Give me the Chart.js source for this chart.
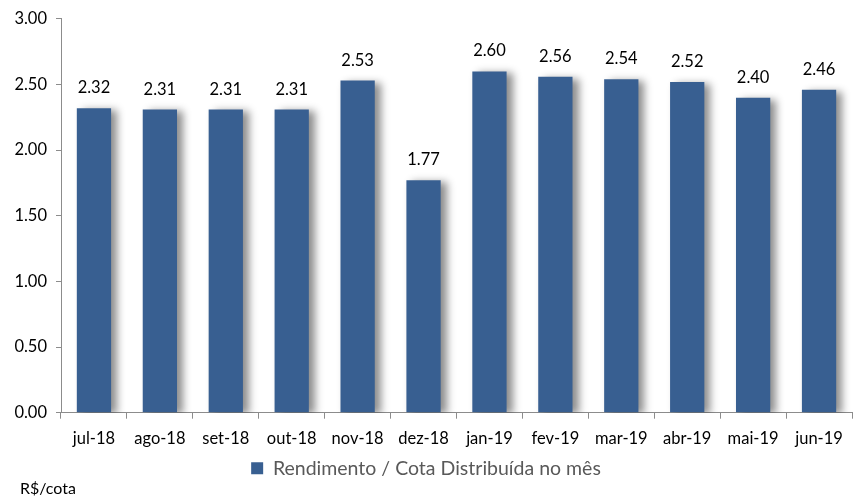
<!DOCTYPE html>
<html>
<head>
<meta charset="utf-8">
<script src="https://cdn.jsdelivr.net/npm/chart.js@4"></script>
<style>
  html, body { margin: 0; padding: 0; background: #fff; }
  #wrap { width: 859px; height: 498px; }
</style>
</head>
<body>
<div id="wrap"><canvas id="rendChart"></canvas></div>
<script>
const months = ["jul-18", "ago-18", "set-18", "out-18", "nov-18", "dez-18",
  "jan-19", "fev-19", "mar-19", "abr-19", "mai-19", "jun-19"];
const rendimento = [2.32, 2.31, 2.31, 2.31, 2.53, 1.77, 2.60, 2.56, 2.54, 2.52, 2.40, 2.46];
const seriesName = "Rendimento / Cota Distribuída no mês";
const unitLabel = "R$/cota";

const FONT = "Lato, 'Open Sans', sans-serif";

// shadow behind bars, like the spreadsheet original
const barShadow = {
  id: "barShadow",
  beforeDatasetDraw(chart) {
    const ctx = chart.ctx;
    ctx.save();
    ctx.shadowColor = "rgba(0,0,0,0.45)";
    ctx.shadowBlur = 8;
    ctx.shadowOffsetX = 6;
    ctx.shadowOffsetY = 2;
  },
  afterDatasetDraw(chart) {
    chart.ctx.restore();
  },
};

// value labels above each bar + unit caption
const valueLabels = {
  id: "valueLabels",
  afterDatasetsDraw(chart) {
    const ctx = chart.ctx;
    const meta = chart.getDatasetMeta(0);
    ctx.save();
    ctx.font = "16.5px " + FONT;
    ctx.fillStyle = "#000";
    ctx.textAlign = "center";
    ctx.textBaseline = "bottom";
    meta.data.forEach((bar, i) => {
      ctx.fillText(rendimento[i].toFixed(2), bar.x, bar.y - 12);
    });
    ctx.restore();
  },
  afterDraw(chart) {
    const ctx = chart.ctx;
    ctx.save();
    ctx.font = "16px " + FONT;
    ctx.fillStyle = "#000";
    ctx.textAlign = "left";
    ctx.textBaseline = "bottom";
    ctx.fillText(unitLabel, 20, chart.height - 1);
    ctx.restore();
  },
};

new Chart(document.getElementById("rendChart"), {
  type: "bar",
  data: {
    labels: months,
    datasets: [
      {
        label: seriesName,
        data: rendimento,
        backgroundColor: "#385F91",
        borderWidth: 0,
        categoryPercentage: 1,
        barPercentage: 0.52,
      },
    ],
  },
  options: {
    responsive: true,
    maintainAspectRatio: false,
    animation: false,
    layout: { padding: { left: 0, right: 7, top: 8, bottom: 10 } },
    plugins: {
      tooltip: { enabled: false },
      legend: {
        position: "bottom",
        labels: {
          boxWidth: 12,
          boxHeight: 12,
          color: "#595959",
          font: { family: FONT, size: 19.5 },
          padding: 0,
        },
      },
    },
    scales: {
      y: {
        min: 0,
        max: 3,
        ticks: {
          stepSize: 0.5,
          color: "#000",
          font: { family: FONT, size: 16.5 },
          padding: 9,
          callback: (v) => v.toFixed(2),
        },
        grid: { drawOnChartArea: false, tickLength: 5, color: "#8c8c8c" },
        border: { color: "#8c8c8c" },
        afterFit(scale) { scale.width = 61; },
      },
      x: {
        ticks: {
          color: "#000",
          font: { family: FONT, size: 16.5 },
          padding: 10,
        },
        grid: { drawOnChartArea: false, tickLength: 6, color: "#8c8c8c" },
        border: { color: "#8c8c8c" },
      },
    },
  },
  plugins: [barShadow, valueLabels],
});
</script>
</body>
</html>
